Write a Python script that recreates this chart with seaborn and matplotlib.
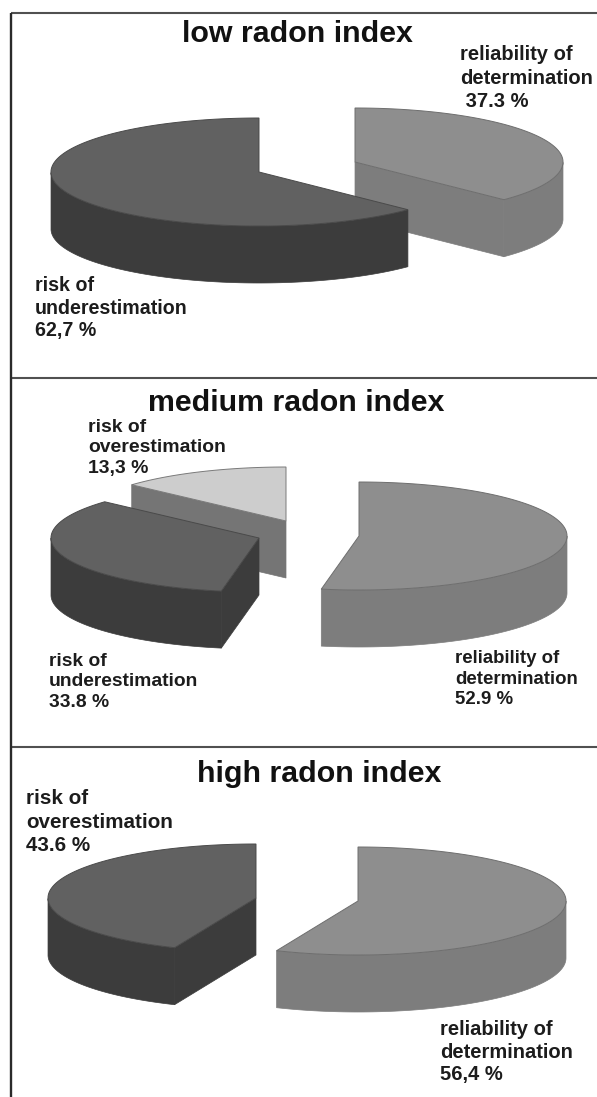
import numpy as np
import pandas as pd
import matplotlib
matplotlib.use("Agg")
import matplotlib.pyplot as plt
import seaborn as sns

# ---- data ----
panels = ["low radon index", "medium radon index", "high radon index"]
low_names = ["reliability", "underestimation"]
low_shares = [37.3, 62.7]
medium_names = ["overestimation", "underestimation", "reliability"]
medium_shares = [13.3, 33.8, 52.9]
high_names = ["overestimation", "reliability"]
high_shares = [43.6, 56.4]

low_labels = ["reliability of\ndetermination\n 37.3 %", "risk of\nunderestimation\n62,7 %"]
medium_labels = ["risk of\noverestimation\n13,3 %", "risk of\nunderestimation\n33.8 %",
                 "reliability of\ndetermination\n52.9 %"]
high_labels = ["risk of\noverestimation\n43.6 %", "reliability of\ndetermination\n56,4 %"]

# ---- style ----
sns.set_theme(style="white")
plt.rcParams["font.family"] = ["Liberation Sans", "DejaVu Sans"]
top_colors = {"reliability": "#8e8e8e", "underestimation": "#616161", "overestimation": "#616161"}
side_colors = {"reliability": "#7d7d7d", "underestimation": "#3c3c3c", "overestimation": "#3c3c3c"}

RX, RY, DEPTH = 208, 54, 57
TEXT = "#1c1c1c"
PT = 72 / 100


def slice_3d(ax, cx, cy, start, sweep, top, side, cut=None, edge=None):
    """Draw an exploded 3-D slice; start/sweep in degrees, counter-clockwise."""
    cut = cut or side
    edge = edge or top
    t = np.radians(np.linspace(start, start + sweep, 240))
    x, y = cx + RX * np.cos(t), cy - RY * np.sin(t)
    # radial faces that look toward the viewer
    for ang, sign in ((start, -1), (start + sweep, 1)):
        r = np.radians(ang)
        if sign * np.cos(r) < -1e-6:
            tx, ty = cx + RX * np.cos(r), cy - RY * np.sin(r)
            ax.fill([cx, tx, tx, cx], [cy, ty, ty + DEPTH, cy + DEPTH],
                    color=cut, lw=0.5, ec=cut, zorder=ax.zo)
            ax.zo += 1
    # outer wall
    low = np.sin(t) <= 0
    if low.any():
        ax.fill(np.r_[x[low], x[low][::-1]], np.r_[y[low], y[low][::-1] + DEPTH],
                color=side, lw=0.5, ec=side, zorder=ax.zo)
        ax.zo += 1
    # top
    ax.fill(np.r_[cx, x], np.r_[cy, y], fc=top, ec=edge, lw=0.7, zorder=ax.zo)
    ax.zo += 1


fig = plt.figure(figsize=(5.97, 10.97), dpi=100, facecolor="white")
ax = fig.add_axes([0, 0, 1, 1])
ax.set_xlim(0, 597)
ax.set_ylim(1097, 0)
ax.axis("off")
ax.zo = 2

frame_table = pd.DataFrame({"x0": [11, 11, 11], "y": [13, 378, 747]})
for _, r in frame_table.iterrows():
    ax.plot([r.x0, 597], [r.y, r.y], color="#505050", lw=1.5, zorder=1, solid_capstyle="butt")
ax.plot([11, 11], [13, 1097], color="#2a2a2a", lw=1.7, zorder=1, solid_capstyle="butt")


def to_deg(share):
    return share / 100 * 360


# low
a = to_deg(low_shares[0])
slice_3d(ax, 355, 162, 90 - a, a, top_colors["reliability"], side_colors["reliability"], edge="#6e6e6e")
slice_3d(ax, 259, 172, 90, to_deg(low_shares[1]), top_colors["underestimation"], side_colors["underestimation"], edge="#4a4a4a")

# medium
o, u, r = (to_deg(s) for s in medium_shares)
slice_3d(ax, 286, 521, 90, o, "#cdcdcd", "#757575", edge="#7a7a7a")
slice_3d(ax, 259, 538, 90 + o, u, top_colors["underestimation"], side_colors["underestimation"], edge="#4a4a4a")
slice_3d(ax, 359, 536, 90 - r, r, top_colors["reliability"], side_colors["reliability"], edge="#6e6e6e")

# high
o, r = (to_deg(s) for s in high_shares)
slice_3d(ax, 256, 898, 90, o, top_colors["overestimation"], side_colors["overestimation"], edge="#4a4a4a")
slice_3d(ax, 358, 901, 90 - r, r, top_colors["reliability"], side_colors["reliability"], edge="#6e6e6e")

# titles
for name, xc, yc in zip(panels, (297.5, 296.5, 319), (34, 403, 774)):
    ax.text(xc, yc, name, ha="center", va="center", fontsize=30.4 * PT, fontweight="bold", color="#111111", zorder=50)

# labels: text, x, y of middle line, font size px, line pitch px
label_spots = [(low_labels[0], 460, 78, 20.2, 23), (low_labels[1], 35, 308, 19.7, 21.5),
               (medium_labels[0], 88, 448, 19.4, 21.5), (medium_labels[1], 49, 682, 19.3, 22),
               (medium_labels[2], 455, 679, 18.7, 21),
               (high_labels[0], 26, 822, 20.6, 23.5), (high_labels[1], 440, 1052, 20.2, 22.5)]
for txt, x, y, size, pitch in label_spots:
    ax.text(x, y, txt, ha="left", va="center", fontsize=size * PT, fontweight="bold",
            color=TEXT, linespacing=pitch / (size * 0.894), zorder=50)

fig.savefig("out.png", dpi=100, facecolor="white")
